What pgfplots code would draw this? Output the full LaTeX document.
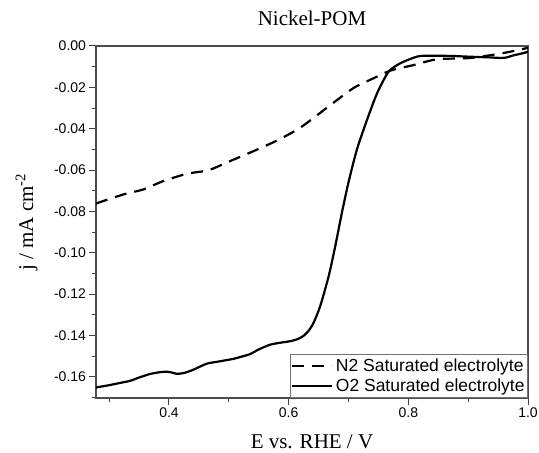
\documentclass[border=0pt]{standalone}
\usepackage{fontspec}
\setmainfont{Liberation Serif}
\setsansfont{Liberation Sans}
\usepackage{pgfplots}
\pgfplotsset{compat=1.18}

\begin{document}
\begin{tikzpicture}
\begin{axis}[
  at={(0pt,0pt)}, anchor=south west,
  scale only axis, width=432pt, height=352pt,
  xmin=0.278, xmax=1.0, ymin=-0.1703, ymax=0,
  xtick={0.4,0.6,0.8,1.0}, minor xtick={0.3,0.5,0.7,0.9},
  ytick={-0.16,-0.14,-0.12,-0.10,-0.08,-0.06,-0.04,-0.02,0},
  minor ytick={-0.17,-0.15,-0.13,-0.11,-0.09,-0.07,-0.05,-0.03,-0.01},
  xtick pos=bottom, ytick pos=left,
  tick align=outside,
  major tick length=6.5pt, minor tick length=4pt,
  every tick/.style={black!75, line width=1pt},
  axis line style={black!70, line width=1.1pt},
  tick label style={font=\sffamily\fontsize{14}{16}\selectfont},
  /pgf/number format/assume math mode=true,
  xticklabel style={/pgf/number format/.cd, fixed, fixed zerofill, precision=1},
  yticklabel style={/pgf/number format/.cd, fixed, fixed zerofill, precision=2},
  title={Nickel-POM},
  title style={font=\fontsize{21}{24}\selectfont, at={(axis description cs:0.5,1)}, anchor=base, yshift=14pt},
  xlabel={E vs. RHE / V},
  xlabel style={font=\fontsize{21}{24}\selectfont, at={(axis description cs:0.5,0)}, anchor=base, yshift=-51pt},
  ylabel={j / mA cm\textsuperscript{-2}},
  ylabel style={font=\fontsize{21}{24}\selectfont, at={(axis description cs:-0.1458,0.5)}, anchor=base},
  legend style={at={(axis description cs:1,0)}, anchor=south east, draw=black!55, line width=0.8pt,
    inner xsep=0pt, inner ysep=4.5pt, row sep=6pt, font=\sffamily\fontsize{17.5}{19}\selectfont,
    nodes={inner xsep=3pt, inner ysep=0pt}},
  legend cell align=left,
  legend image code/.code={\draw[#1] (0pt,0pt) -- (40pt,0pt);},
]
\addplot[black, line width=2.2pt, dash pattern=on 12pt off 8pt, smooth, tension=0.4] coordinates {
(0.278,-0.0762) (0.282,-0.0758) (0.324,-0.0718) (0.357,-0.0694) (0.390,-0.0654)
(0.430,-0.0618) (0.466,-0.0601) (0.502,-0.0557) (0.541,-0.0509) (0.580,-0.0458)
(0.619,-0.0396) (0.667,-0.0292) (0.708,-0.0204) (0.742,-0.0156) (0.770,-0.0119)
(0.809,-0.0092) (0.848,-0.0064) (0.904,-0.0058) (0.959,-0.0034) (0.998,-0.0010) (1.0,-0.0009)
};
\addlegendentry{N2 Saturated electrolyte}
\addplot[black, line width=2.2pt, smooth, tension=0.4] coordinates {
(0.278,-0.1652) (0.300,-0.1641) (0.320,-0.1629) (0.335,-0.1620) (0.350,-0.1604)
(0.368,-0.1587) (0.385,-0.1578) (0.397,-0.1576) (0.405,-0.1580) (0.413,-0.1586)
(0.425,-0.1582) (0.440,-0.1567) (0.463,-0.1537) (0.480,-0.1528) (0.507,-0.1514)
(0.520,-0.1504) (0.536,-0.1490) (0.550,-0.1468) (0.569,-0.1445) (0.585,-0.1436)
(0.603,-0.1428) (0.615,-0.1418) (0.625,-0.1402) (0.634,-0.1375) (0.642,-0.1337)
(0.653,-0.1256) (0.667,-0.1112) (0.678,-0.0967) (0.689,-0.0806) (0.700,-0.0660)
(0.714,-0.0501) (0.731,-0.0357) (0.748,-0.0227) (0.767,-0.0124) (0.787,-0.0083)
(0.815,-0.0051) (0.835,-0.0047) (0.870,-0.0048) (0.904,-0.0052) (0.935,-0.0055)
(0.955,-0.0058) (0.965,-0.0055) (0.976,-0.0045) (0.990,-0.0036) (1.0,-0.0028)
};
\addlegendentry{O2 Saturated electrolyte}
\end{axis}
\pgfresetboundingbox
\path (-96pt,-55pt) rectangle (443pt,398pt);
\end{tikzpicture}
\end{document}
